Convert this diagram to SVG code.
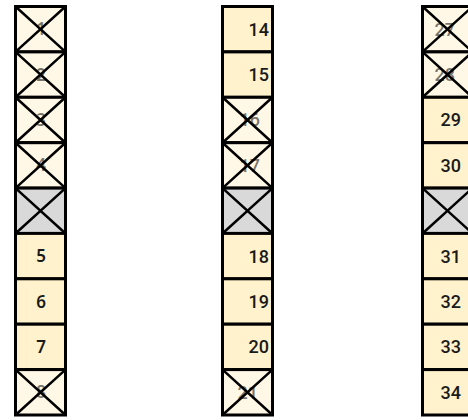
<svg xmlns="http://www.w3.org/2000/svg" width="468" height="420" viewBox="0 0 468 420">
<style>
.cell{fill:#FFF2CC;stroke:#000;stroke-width:3}
.dead{fill:#FFF8E6;stroke:#000;stroke-width:3}
.gray{fill:#D9D9D9;stroke:#000;stroke-width:3}
.xl{stroke:#000;stroke-width:2.5;fill:none}
.t1{font-family:"Noto Sans",sans-serif;font-weight:600;font-size:17px;fill:#1a1a1a;text-anchor:middle}
.t2{font-family:Roboto,sans-serif;font-weight:500;font-size:18px;fill:#1a1a1a;text-anchor:end}
.t3{font-family:Roboto,sans-serif;font-weight:500;font-size:18px;fill:#1a1a1a;text-anchor:end}
.fade{fill-opacity:.6}
</style>
<defs>
<path id="x" d="M0,0 L50,45.4 M50,0 L0,45.4"/>
</defs>
<!-- Column 1 -->
<g id="c1-1"><rect class="dead" x="15.5" y="6.5" width="50" height="45.4"/><text class="t1 fade" x="41" y="35">1</text><use href="#x" class="xl" x="15.5" y="6.5"/></g>
<g id="c1-2"><rect class="dead" x="15.5" y="51.9" width="50" height="45.4"/><text class="t1 fade" x="41" y="80.5">2</text><use href="#x" class="xl" x="15.5" y="51.9"/></g>
<g id="c1-3"><rect class="dead" x="15.5" y="97.3" width="50" height="45.4"/><text class="t1 fade" x="41" y="126">3</text><use href="#x" class="xl" x="15.5" y="97.3"/></g>
<g id="c1-4"><rect class="dead" x="15.5" y="142.7" width="50" height="45.4"/><text class="t1 fade" x="41" y="171.4">4</text><use href="#x" class="xl" x="15.5" y="142.7"/></g>
<g id="c1-g"><rect class="gray" x="15.5" y="188.1" width="50" height="45.4"/><use href="#x" class="xl" x="15.5" y="188.1"/></g>
<g id="c1-5"><rect class="cell" x="15.5" y="233.4" width="50" height="45.4"/><text class="t1" x="41" y="262">5</text></g>
<g id="c1-6"><rect class="cell" x="15.5" y="278.8" width="50" height="45.4"/><text class="t1" x="41" y="307.5">6</text></g>
<g id="c1-7"><rect class="cell" x="15.5" y="324.2" width="50" height="45.4"/><text class="t1" x="41" y="353">7</text></g>
<g id="c1-8"><rect class="dead" x="15.5" y="369.6" width="50" height="45.4"/><text class="t1 fade" x="41" y="398.3">8</text><use href="#x" class="xl" x="15.5" y="369.6"/></g>
<!-- Column 2 -->
<g id="c2-14"><rect class="cell" x="222.5" y="6.5" width="50" height="45.4"/><text class="t2" x="269" y="35.5">14</text></g>
<g id="c2-15"><rect class="cell" x="222.5" y="51.9" width="50" height="45.4"/><text class="t2" x="269" y="81">15</text></g>
<g id="c2-16"><rect class="dead" x="222.5" y="97.3" width="50" height="45.4"/><text class="t2 fade" x="260" y="126.4">16</text><use href="#x" class="xl" x="222.5" y="97.3"/></g>
<g id="c2-17"><rect class="dead" x="222.5" y="142.7" width="50" height="45.4"/><text class="t2 fade" x="260" y="171.8">17</text><use href="#x" class="xl" x="222.5" y="142.7"/></g>
<g id="c2-g"><rect class="gray" x="222.5" y="188.1" width="50" height="45.4"/><use href="#x" class="xl" x="222.5" y="188.1"/></g>
<g id="c2-18"><rect class="cell" x="222.5" y="233.4" width="50" height="45.4"/><text class="t2" x="269" y="262.5">18</text></g>
<g id="c2-19"><rect class="cell" x="222.5" y="278.8" width="50" height="45.4"/><text class="t2" x="269" y="308">19</text></g>
<g id="c2-20"><rect class="cell" x="222.5" y="324.2" width="50" height="45.4"/><text class="t2" x="269" y="353.4">20</text></g>
<g id="c2-21"><rect class="dead" x="222.5" y="369.6" width="50" height="45.4"/><text class="t2 fade" x="258" y="398.8">21</text><use href="#x" class="xl" x="222.5" y="369.6"/></g>
<!-- Column 3 -->
<g id="c3-27"><rect class="dead" x="422.5" y="6.5" width="50" height="45.4"/><text class="t3 fade" x="455" y="35.5">27</text><use href="#x" class="xl" x="422.5" y="6.5"/></g>
<g id="c3-28"><rect class="dead" x="422.5" y="51.9" width="50" height="45.4"/><text class="t3 fade" x="455" y="81">28</text><use href="#x" class="xl" x="422.5" y="51.9"/></g>
<g id="c3-29"><rect class="cell" x="422.5" y="97.3" width="50" height="45.4"/><text class="t3" x="461" y="126.4">29</text></g>
<g id="c3-30"><rect class="cell" x="422.5" y="142.7" width="50" height="45.4"/><text class="t3" x="461" y="171.8">30</text></g>
<g id="c3-g"><rect class="gray" x="422.5" y="188.1" width="50" height="45.4"/><use href="#x" class="xl" x="422.5" y="188.1"/></g>
<g id="c3-31"><rect class="cell" x="422.5" y="233.4" width="50" height="45.4"/><text class="t3" x="461" y="262.5">31</text></g>
<g id="c3-32"><rect class="cell" x="422.5" y="278.8" width="50" height="45.4"/><text class="t3" x="461" y="308">32</text></g>
<g id="c3-33"><rect class="cell" x="422.5" y="324.2" width="50" height="45.4"/><text class="t3" x="461" y="353.4">33</text></g>
<g id="c3-34"><rect class="cell" x="422.5" y="369.6" width="50" height="45.4"/><text class="t3" x="461" y="398.8">34</text></g>
<g id="connectors"/>
</svg>
